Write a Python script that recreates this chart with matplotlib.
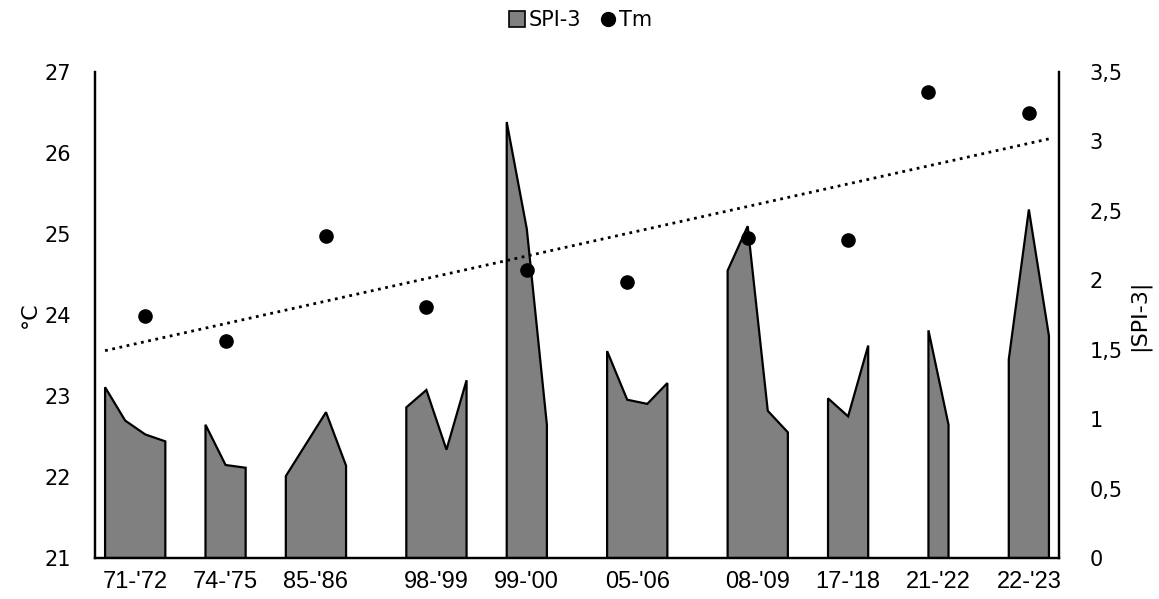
import numpy as np
import matplotlib
matplotlib.use("Agg")
import matplotlib.pyplot as plt
from matplotlib.lines import Line2D

nan = np.nan

# one slot per month on the category axis, NaN = no data
spi = [1.23, 0.99, 0.89, 0.84, nan,
       0.96, 0.67, 0.65, nan,
       0.59, 0.82, 1.05, 0.665, nan, nan,
       1.085, 1.21, 0.78, 1.28, nan,
       3.14, 2.37, 0.96, nan, nan,
       1.49, 1.14, 1.11, 1.26, nan, nan,
       2.07, 2.39, 1.06, 0.905, nan,
       1.15, 1.02, 1.53, nan, nan,
       1.64, 0.96, nan, nan,
       1.43, 2.51, 1.60]

tm_slots = [2, 6, 11, 16, 21, 26, 32, 37, 41, 46]
tm_vals = [23.99, 23.68, 24.98, 24.10, 24.56, 24.41, 24.95, 24.93, 26.75, 26.49]

periods = ["71-'72", "74-'75", "85-'86", "98-'99", "99-'00",
           "05-'06", "08-'09", "17-'18", "21-'22", "22-'23"]

GRAY = "#808080"

spi = np.array(spi, dtype=float)
x = np.arange(len(spi))
tm = np.full(len(spi), nan)
tm[tm_slots] = tm_vals

# contiguous runs of data -> one area each
runs, cur = [], []
for i, v in enumerate(spi):
    if np.isnan(v):
        if cur:
            runs.append(cur)
        cur = []
    else:
        cur.append(i)
if cur:
    runs.append(cur)

fig = plt.figure(figsize=(11.59, 5.99), dpi=100)
ax = fig.add_axes([0.082, 0.0684, 0.8317, 0.8114])
ax2 = ax.twinx()
ax.set_zorder(ax2.get_zorder() + 1)
ax.patch.set_visible(False)

# ── SPI-3 areas (right axis) ────────────────────────────────────────────────
for r in runs:
    xs = [r[0]] + r + [r[-1]]
    ys = [0] + list(spi[r]) + [0]
    ax2.fill(xs, ys, facecolor=GRAY, edgecolor="black", lw=1.6, joinstyle="miter")

# ── Tm points + linear trend (left axis) ────────────────────────────────────
ax.plot(x, tm, "o", color="black", ms=9.5, zorder=4)
k, b = np.polyfit(tm_slots, tm_vals, 1)
ax.plot([x[0], x[-1]], [k * x[0] + b, k * x[-1] + b], ":", color="black", lw=2,
        zorder=3)

ax.set_xlim(-0.5, len(spi) - 0.5)
ax.set_ylim(21, 27)
ax2.set_ylim(0, 3.5)
ax.set_yticks(np.arange(21, 28, 1))
ax2.set_yticks(np.arange(0, 3.51, 0.5))
ax2.set_yticklabels([f"{v:g}".replace(".", ",") for v in np.arange(0, 3.51, 0.5)])

ax.set_xticks([np.mean(r) for r in runs])
ax.set_xticklabels(periods, fontsize=17, family="Liberation Sans")

for a in (ax, ax2):
    a.tick_params(length=0)
    for s in a.spines.values():
        s.set_linewidth(1.6)
    a.spines["top"].set_visible(False)
ax.tick_params(axis="y", pad=17, labelsize=15)
ax.tick_params(axis="x", pad=9)
ax2.tick_params(axis="y", pad=22, labelsize=15)

fig.text(0.026, 1 - 315 / 599, "°C", rotation=90, fontsize=16, ha="center", va="center")
fig.text(0.983, 1 - 315 / 599, "|SPI-3|", rotation=90, fontsize=16,
         ha="center", va="center")

handles = [Line2D([], [], ls="none", marker="s", ms=11, mfc=GRAY, mec="black", mew=1.2),
           Line2D([], [], ls="none", marker="o", ms=10, mfc="black", mec="black")]
fig.legend(handles, ["SPI-3", "Tm"], loc="center", bbox_to_anchor=(0.5, 1 - 20 / 599),
           ncol=2, frameon=False, fontsize=15, handletextpad=0.05, columnspacing=0.8,
           handlelength=1.0)

fig.savefig("out.png", dpi=100)
